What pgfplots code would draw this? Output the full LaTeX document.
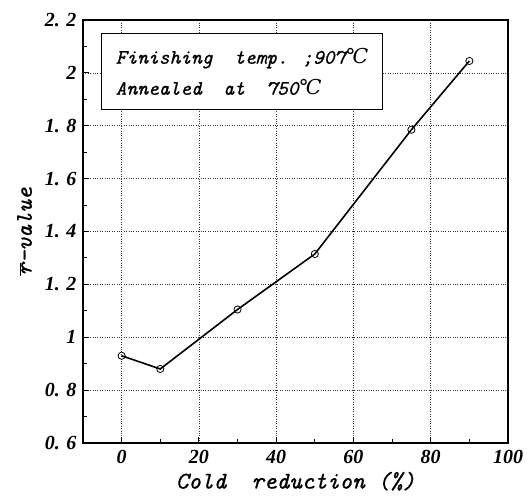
\documentclass[border=0pt]{standalone}
\usepackage{fontspec}
\usepackage{pgfplots}
\pgfplotsset{compat=1.18}
\newfontfamily\tickfont{Liberation Serif}
\newfontfamily\labfont{lmmono10-italic.otf}[FakeBold=0.8]
\newfontfamily\symfont{DejaVu Serif}
\newcommand{\degC}{{\symfont\mdseries\itshape ℃}}

\begin{document}
\begin{tikzpicture}
% fixed canvas around the plot area
\path[use as bounding box] (-83pt,-54pt) rectangle (444pt,443pt);
\begin{axis}[
  at={(0,0)}, anchor=south west,
  scale only axis, width=425pt, height=423pt,
  xmin=-10, xmax=100, ymin=0.6, ymax=2.2,
  xtick={0,20,40,60,80,100},
  minor xtick={-10,10,30,50,70,90},
  ytick={0.6,0.8,1,1.2,1.4,1.6,1.8,2,2.2},
  yticklabels={0.\,\,6,0.\,\,8,1,1.\,\,2,1.\,\,4,1.\,\,6,1.\,\,8,2,2.\,\,2},
  minor ytick={0.7,0.9,1.1,1.3,1.5,1.7,1.9,2.1},
  xtick pos=bottom, ytick pos=left,
  tick align=inside,
  major tick length=6pt, minor tick length=4pt,
  tick style={line width=1pt, black},
  axis line style={line width=1.6pt},
  grid=major,
  major grid style={dotted, line width=0.7pt, black!80},
  /pgf/number format/assume math mode=true,
  ticklabel style={font=\fontsize{20}{20}\tickfont\bfseries\itshape},
  xticklabel style={yshift=-4pt},
  yticklabel style={xshift=-3pt},
  xlabel={\fontsize{24}{24}\labfont\bfseries Cold\ \ reduction (\%)},
  ylabel={\fontsize{24}{24}\labfont\bfseries $\overline{\mbox{\labfont\bfseries r}}$-value},
  xlabel style={yshift=-1pt},
  ylabel style={yshift=6pt},
]
\addplot[black, line width=1.6pt, mark=o,
  mark options={line width=0.8pt, scale=1.8, solid}]
  coordinates {(0,0.93) (10,0.88) (30,1.105) (50,1.315) (75,1.785) (90,2.045)};
\node[anchor=north west, draw, line width=1.3pt, fill=white,
  minimum width=281pt, minimum height=76pt,
  inner xsep=9pt, align=left,
  font=\fontsize{20.5}{31}\labfont\bfseries]
  at (rel axis cs:0.042,0.969)
  {Finishing\ \ temp. ;907\degC\\Annealed\ \ at\ \ 750\degC};
\end{axis}
\end{tikzpicture}
\end{document}
